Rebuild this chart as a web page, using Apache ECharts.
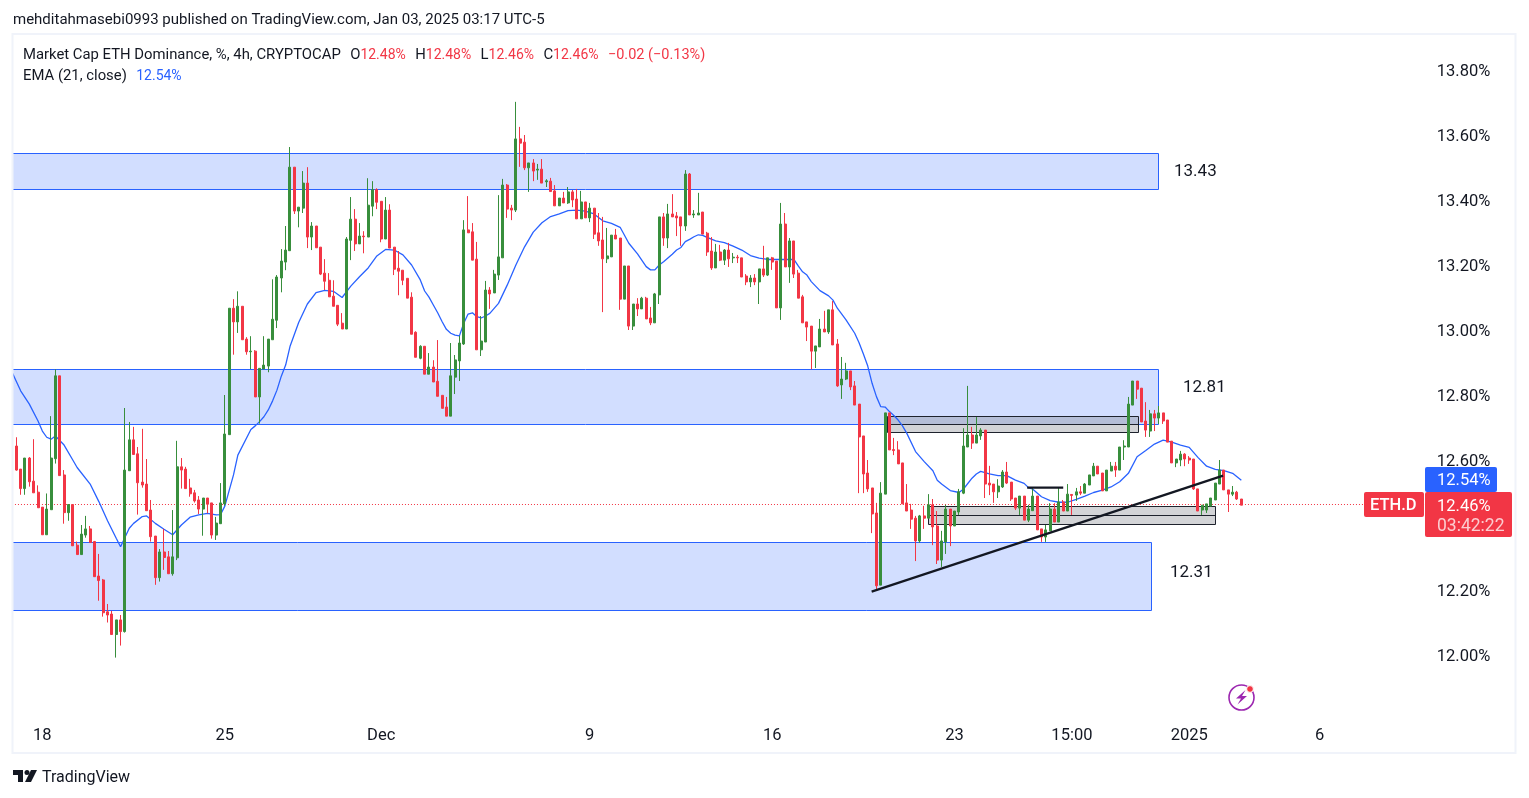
<!DOCTYPE html>
<html>
<head>
<meta charset="utf-8">
<title>ETH.D</title>
<style>
html, body { margin: 0; padding: 0; background: #fff; }
#chart { width: 1529px; height: 798px; }
</style>
<script src="https://cdn.jsdelivr.net/npm/echarts@6/dist/echarts.min.js"></script>
</head>
<body>
<div id="chart"></div>
<script>
// candles, one value per 4h bar
var openVals = [
12.551,12.643,12.572,12.512,12.606,12.535,12.501,12.455,12.370,12.447,
12.604,12.859,12.554,12.438,12.463,12.338,12.309,12.369,12.388,12.349,
12.243,12.231,12.133,12.126,12.063,12.108,12.072,12.567,12.662,12.619,
12.532,12.526,12.446,12.366,12.238,12.317,12.302,12.250,12.299,12.579,
12.572,12.514,12.499,12.477,12.449,12.483,12.468,12.369,12.404,12.465,
12.678,13.067,13.025,13.073,12.972,12.933,12.935,12.794,12.880,12.889,
12.970,13.030,13.160,13.209,13.244,13.501,13.366,13.375,13.452,13.286,
13.320,13.255,13.175,13.153,13.104,13.076,13.021,13.003,13.276,13.341,
13.265,13.289,13.286,13.381,13.432,13.396,13.280,13.369,13.255,13.190,
13.184,13.159,13.101,12.993,12.913,12.950,12.864,12.886,12.842,12.799,
12.763,12.735,12.855,12.905,12.957,13.308,13.302,13.218,12.939,12.963,
13.123,13.114,13.169,13.222,13.446,13.375,13.369,13.588,13.578,13.499,
13.514,13.492,13.495,13.456,13.458,13.428,13.382,13.406,13.391,13.425,
13.403,13.342,13.394,13.345,13.375,13.299,13.277,13.219,13.225,13.292,
13.283,13.095,13.197,13.012,13.080,13.065,13.098,13.037,13.022,13.108,
13.348,13.283,13.357,13.351,13.348,13.320,13.480,13.354,13.354,13.363,
13.298,13.243,13.191,13.240,13.215,13.246,13.222,13.224,13.222,13.166,
13.148,13.160,13.148,13.188,13.169,13.222,13.212,13.068,13.326,13.194,
13.274,13.175,13.102,13.025,13.012,12.935,12.948,13.003,12.994,13.062,
12.957,12.831,12.849,12.874,12.828,12.772,12.674,12.560,12.514,12.437,
12.215,12.495,12.745,12.632,12.631,12.591,12.468,12.446,12.421,12.351,
12.428,12.421,12.462,12.397,12.292,12.348,12.449,12.397,12.440,12.498,
12.640,12.677,12.652,12.674,12.692,12.529,12.526,12.502,12.517,12.563,
12.532,12.483,12.452,12.489,12.415,12.444,12.489,12.388,12.363,12.382,
12.449,12.409,12.471,12.443,12.494,12.492,12.502,12.498,12.523,12.551,
12.581,12.560,12.505,12.566,12.581,12.569,12.640,12.640,12.769,12.843,
12.821,12.720,12.689,12.742,12.729,12.745,12.723,12.658,12.591,12.600,
12.618,12.606,12.603,12.511,12.446,12.446,12.458,12.477,12.526,12.569,
12.508,12.495,12.501,12.480];
var closeVals = [
12.643,12.569,12.512,12.606,12.533,12.499,12.453,12.370,12.449,12.606,
12.859,12.552,12.438,12.463,12.336,12.309,12.372,12.388,12.346,12.241,
12.229,12.130,12.123,12.063,12.108,12.072,12.569,12.662,12.617,12.530,
12.523,12.444,12.364,12.238,12.317,12.300,12.250,12.302,12.579,12.569,
12.512,12.496,12.474,12.449,12.483,12.464,12.369,12.406,12.468,12.680,
13.067,13.025,13.073,12.970,12.933,12.935,12.794,12.882,12.892,12.972,
13.033,13.163,13.212,13.246,13.501,13.366,13.378,13.452,13.286,13.320,
13.253,13.172,13.150,13.102,13.073,13.018,13.003,13.280,13.341,13.265,
13.289,13.287,13.384,13.432,13.393,13.280,13.369,13.252,13.187,13.181,
13.153,13.098,12.987,12.916,12.950,12.864,12.886,12.840,12.796,12.759,
12.735,12.859,12.908,12.960,13.308,13.299,13.215,12.939,12.966,13.123,
13.111,13.172,13.225,13.446,13.372,13.369,13.588,13.575,13.499,13.514,
13.489,13.495,13.452,13.459,13.426,13.382,13.406,13.391,13.425,13.400,
13.342,13.394,13.345,13.375,13.295,13.274,13.219,13.228,13.292,13.280,
13.095,13.197,13.012,13.080,13.065,13.098,13.034,13.022,13.111,13.348,
13.283,13.357,13.348,13.345,13.320,13.480,13.354,13.357,13.360,13.295,
13.240,13.191,13.240,13.215,13.246,13.219,13.224,13.222,13.163,13.148,
13.160,13.148,13.188,13.169,13.222,13.209,13.068,13.326,13.194,13.274,
13.172,13.098,13.022,13.009,12.935,12.951,13.003,12.994,13.062,12.954,
12.828,12.849,12.874,12.825,12.769,12.671,12.557,12.511,12.434,12.213,
12.498,12.745,12.631,12.629,12.588,12.465,12.443,12.418,12.351,12.428,
12.421,12.462,12.394,12.292,12.351,12.449,12.397,12.443,12.502,12.643,
12.677,12.652,12.677,12.692,12.526,12.523,12.502,12.520,12.563,12.529,
12.480,12.452,12.489,12.415,12.449,12.489,12.385,12.363,12.385,12.449,
12.409,12.471,12.443,12.495,12.491,12.502,12.498,12.526,12.554,12.581,
12.557,12.505,12.569,12.581,12.569,12.640,12.643,12.772,12.843,12.818,
12.717,12.692,12.742,12.729,12.745,12.720,12.655,12.591,12.603,12.618,
12.603,12.600,12.511,12.443,12.461,12.465,12.483,12.529,12.569,12.508,
12.495,12.501,12.480,12.461];
var lowVals = [
12.551,12.567,12.493,12.493,12.518,12.499,12.453,12.370,12.370,12.447,
12.589,12.552,12.404,12.413,12.336,12.309,12.309,12.361,12.346,12.241,
12.167,12.118,12.100,12.063,11.992,12.029,12.069,12.567,12.617,12.432,
12.515,12.444,12.349,12.216,12.226,12.262,12.250,12.244,12.292,12.512,
12.512,12.487,12.469,12.434,12.367,12.436,12.358,12.354,12.404,12.459,
12.678,12.924,12.991,12.970,12.924,12.880,12.794,12.712,12.880,12.870,
12.970,13.006,13.116,13.184,13.244,13.357,13.316,13.360,13.252,13.246,
13.253,13.169,13.123,13.102,13.073,13.012,13.003,13.003,13.215,13.243,
13.265,13.236,13.286,13.350,13.372,13.270,13.280,13.252,13.169,13.107,
13.138,13.098,12.987,12.916,12.910,12.864,12.864,12.840,12.796,12.759,
12.735,12.735,12.803,12.843,12.954,13.299,13.215,12.939,12.920,12.963,
13.065,13.114,13.154,13.222,13.345,13.338,13.363,13.502,13.492,13.425,
13.458,13.462,13.452,13.440,13.426,13.382,13.382,13.391,13.388,13.378,
13.342,13.342,13.345,13.332,13.280,13.259,13.055,13.206,13.225,13.280,
13.062,13.095,13.000,13.000,13.043,13.065,13.034,13.015,13.022,13.080,
13.259,13.252,13.348,13.289,13.259,13.305,13.354,13.345,13.354,13.295,
13.228,13.185,13.191,13.212,13.200,13.194,13.206,13.206,13.163,13.138,
13.132,13.138,13.080,13.163,13.166,13.185,13.068,13.031,13.194,13.145,
13.160,13.098,13.022,12.966,12.879,12.883,12.948,12.994,12.988,12.954,
12.825,12.788,12.846,12.815,12.769,12.498,12.498,12.502,12.375,12.200,
12.215,12.495,12.631,12.615,12.588,12.465,12.443,12.388,12.289,12.345,
12.388,12.421,12.338,12.280,12.271,12.311,12.335,12.397,12.431,12.495,
12.640,12.634,12.652,12.662,12.483,12.492,12.468,12.483,12.514,12.526,
12.474,12.446,12.431,12.415,12.409,12.444,12.385,12.348,12.348,12.382,
12.409,12.409,12.443,12.443,12.431,12.474,12.492,12.498,12.523,12.551,
12.557,12.505,12.505,12.566,12.548,12.569,12.600,12.640,12.769,12.788,
12.717,12.671,12.671,12.689,12.711,12.711,12.655,12.591,12.578,12.581,
12.581,12.588,12.508,12.443,12.431,12.437,12.458,12.477,12.526,12.508,
12.440,12.489,12.477,12.461];
var highVals = [
12.643,12.670,12.572,12.606,12.609,12.664,12.522,12.455,12.497,12.735,
12.879,12.859,12.569,12.463,12.463,12.349,12.400,12.428,12.397,12.351,
12.311,12.234,12.157,12.136,12.108,12.123,12.760,12.717,12.702,12.640,
12.696,12.603,12.477,12.366,12.326,12.388,12.320,12.446,12.659,12.606,
12.579,12.542,12.508,12.489,12.483,12.483,12.468,12.425,12.529,12.800,
13.067,13.095,13.119,13.073,12.978,12.981,12.938,12.882,12.981,12.972,
13.156,13.169,13.249,13.320,13.563,13.501,13.378,13.489,13.501,13.332,
13.320,13.255,13.218,13.175,13.153,13.076,13.052,13.286,13.409,13.372,
13.329,13.304,13.467,13.458,13.436,13.396,13.409,13.387,13.255,13.243,
13.184,13.159,13.116,12.996,12.953,12.950,12.929,12.907,12.969,12.799,
12.794,12.960,12.923,12.982,13.338,13.412,13.329,13.271,13.043,13.151,
13.132,13.185,13.415,13.465,13.449,13.385,13.702,13.625,13.600,13.514,
13.526,13.511,13.526,13.464,13.468,13.446,13.406,13.425,13.440,13.431,
13.434,13.428,13.394,13.391,13.375,13.360,13.348,13.314,13.292,13.311,
13.283,13.197,13.197,13.080,13.098,13.102,13.102,13.071,13.114,13.348,
13.360,13.388,13.418,13.363,13.348,13.492,13.483,13.369,13.422,13.363,
13.302,13.286,13.265,13.262,13.249,13.268,13.237,13.231,13.222,13.172,
13.169,13.172,13.188,13.259,13.222,13.225,13.212,13.391,13.360,13.283,
13.274,13.185,13.108,13.025,13.012,12.951,13.034,13.059,13.062,13.089,
12.972,12.917,12.899,12.874,12.843,12.772,12.674,12.600,12.514,12.468,
12.532,12.745,12.745,12.668,12.658,12.591,12.526,12.465,12.428,12.431,
12.459,12.495,12.480,12.443,12.382,12.462,12.449,12.443,12.511,12.698,
12.828,12.702,12.732,12.698,12.692,12.582,12.526,12.541,12.569,12.594,
12.532,12.483,12.489,12.489,12.462,12.514,12.489,12.388,12.400,12.467,
12.467,12.514,12.477,12.526,12.495,12.514,12.520,12.529,12.554,12.591,
12.581,12.560,12.569,12.594,12.594,12.640,12.661,12.794,12.843,12.843,
12.821,12.778,12.754,12.754,12.766,12.745,12.723,12.658,12.603,12.628,
12.621,12.612,12.603,12.511,12.461,12.465,12.483,12.529,12.600,12.569,
12.508,12.520,12.505,12.480];

// EMA 21, read at these bars
var emaBars = [0,2,4,6,7,8,9,10,12,14,15,18,20,22,24,25,27,28,30,31,33,35,37,39,41,43,45,47,48,49,51,52,
55,56,57,58,59,60,61,62,63,64,66,68,70,72,74,76,78,80,82,84,86,88,90,92,
94,95,96,97,98,99,100,101,102,103,104,105,106,107,108,109,110,112,114,116,118,120,122,124,126,128,130,132,134,136,138,140,142,144,
146,147,148,149,150,152,153,154,155,156,157,158,159,160,162,164,166,168,170,172,174,176,178,180,181,182,183,184,186,188,189,190,192,194,
195,196,197,198,199,200,201,202,203,204,205,206,208,210,212,213,214,216,218,219,221,222,223,225,227,229,231,233,
234,235,237,239,241,243,245,247,249,251,253,255,257,259,261,263,265,267,269,271,273,275,277,279,281,283];
var emaVals = [12.871,12.813,12.772,12.720,12.689,12.670,12.664,12.674,12.646,12.600,12.577,12.526,12.472,12.413,12.359,12.333,12.390,12.405,12.426,12.428,12.405,12.387,12.370,12.400,12.424,12.431,12.436,12.431,12.432,12.458,12.554,12.615,
12.694,12.705,12.718,12.733,12.754,12.782,12.815,12.858,12.892,12.949,13.023,13.080,13.115,13.122,13.119,13.100,13.135,13.164,13.191,13.228,13.248,13.246,13.231,13.200,
13.154,13.120,13.101,13.077,13.053,13.026,13.002,12.990,12.984,12.982,13.021,13.049,13.053,13.041,13.037,13.043,13.051,13.082,13.138,13.200,13.256,13.301,13.330,13.349,13.357,13.367,13.369,13.366,13.357,13.336,13.328,13.316,13.267,13.234,
13.195,13.185,13.185,13.200,13.210,13.233,13.246,13.254,13.272,13.279,13.287,13.293,13.291,13.285,13.274,13.269,13.258,13.246,13.229,13.221,13.217,13.217,13.217,13.217,13.197,13.179,13.169,13.149,13.121,13.105,13.092,13.067,13.031,12.990,
12.961,12.926,12.889,12.836,12.795,12.764,12.763,12.749,12.737,12.723,12.705,12.682,12.626,12.595,12.567,12.538,12.526,12.506,12.500,12.510,12.544,12.557,12.565,12.557,12.552,12.552,12.538,12.528,
12.515,12.510,12.487,12.475,12.470,12.470,12.479,12.489,12.500,12.507,12.517,12.533,12.559,12.610,12.629,12.649,12.661,12.655,12.646,12.639,12.608,12.581,12.571,12.567,12.559,12.538];

// x ticks
var tickBars = [7,49,85,133,175,217,244,271,301];
var tickLabels = ['18','25','Dec','9','16','23','15:00','2025','6'];

// drawings: [bar from, bar to, price top, price bottom]
var blueZones = [[0,263.8,13.543,13.432],[0,263.8,12.878,12.709],[0,262.1,12.346,12.137]];
var grayZones = [[201.4,259.1,12.734,12.685],[210.9,277,12.458,12.402]];
// [bar from, price from, bar to, price to]
var trendLines = [[197.9,12.195,278.8,12.552],[233.7,12.515,242,12.515]];

var lastPriceLine = 12.463;
var barCount = 327;

var UP = '#388e3c', DOWN = '#f23645', BLUE = '#2962ff', INK = '#131722';
var FONT = 'Roboto, sans-serif';

var categories = [];
for (var i = 0; i < barCount; i++) categories.push(String(i));

var ema = categories.map(function () { return null; });
emaBars.forEach(function (b, i) { ema[b] = emaVals[i]; });

var candles = openVals.map(function (o, i) {
    return [o, closeVals[i], lowVals[i], highVals[i]];
});

// category axes round floats, so fractional bars go through the band width
function pt(api, bar, price) {
    var a = api.coord([0, price]);
    var b = api.coord([1, price]);
    return [a[0] + (b[0] - a[0]) * bar, a[1]];
}

function renderZone(params, api) {
    var z = blueZones[params.dataIndex];
    var p0 = pt(api, z[0], z[2]);
    var p1 = pt(api, z[1], z[3]);
    return {
        type: 'rect',
        shape: { x: Math.round(p0[0]) + 0.5, y: Math.floor(p0[1]) + 0.5, width: Math.round(p1[0] - p0[0]), height: Math.round(p1[1] - p0[1]) },
        style: { fill: 'rgba(41,98,255,0.21)', stroke: BLUE, lineWidth: 1 }
    };
}

function renderGray(params, api) {
    var z = grayZones[params.dataIndex];
    var p0 = pt(api, z[0], z[2]);
    var p1 = pt(api, z[1], z[3]);
    var x = Math.round(p0[0]) + 0.5, y = Math.floor(p0[1]) + 0.5;
    var w = Math.round(p1[0] - p0[0]), h = Math.round(p1[1] - p0[1]);
    return {
        type: 'group',
        children: [
            { type: 'rect', shape: { x: x, y: y, width: w, height: h }, style: { fill: 'rgba(120,123,134,0.33)', stroke: '#1e222d', lineWidth: 1 } },
            { type: 'line', shape: { x1: x, y1: y + Math.round(h / 2), x2: x + w, y2: y + Math.round(h / 2) }, style: { stroke: '#1e222d', lineWidth: 1 } }
        ]
    };
}

function renderTrend(params, api) {
    var t = trendLines[params.dataIndex];
    var p0 = pt(api, t[0], t[1]);
    var p1 = pt(api, t[2], t[3]);
    return {
        type: 'line',
        shape: { x1: p0[0], y1: p0[1], x2: p1[0], y2: p1[1] },
        style: { stroke: INK, lineWidth: 2.2 }
    };
}

// last price, dotted across the pane
function renderPriceLine(params, api) {
    var p0 = pt(api, 0, lastPriceLine);
    var p1 = pt(api, barCount - 1, lastPriceLine);
    var y = Math.floor(p0[1]) + 0.5;
    return {
        type: 'line',
        shape: { x1: p0[0], y1: y, x2: p1[0], y2: y },
        style: { stroke: DOWN, lineWidth: 1, lineDash: [1, 2] }
    };
}

function indexRows(list) {
    return list.map(function (_, i) { return [i]; });
}

function txt(x, y, text, size, color, extra) {
    return {
        type: 'text', z: 120, x: x, y: y,
        style: Object.assign({ text: text, fontSize: size, fontFamily: FONT, fill: color, verticalAlign: 'middle' }, extra || {})
    };
}

function box(x, y, w, h, fill) {
    return { type: 'rect', z: 110, shape: { x: x, y: y, width: w, height: h, r: 2 }, style: { fill: fill } };
}

var legendRich = {
    k: { fontFamily: FONT, fontSize: 14.85, fontWeight: 'normal', color: INK },
    r: { fontFamily: FONT, fontSize: 14, fontWeight: 'normal', color: DOWN },
    d: { fontFamily: FONT, fontSize: 14.5, fontWeight: 'normal', color: DOWN },
    b: { fontFamily: FONT, fontSize: 14, fontWeight: 'normal', color: BLUE },
    s: { width: 9.4 }
};

var chart = echarts.init(document.getElementById('chart'));
chart.setOption({
    animation: false,
    backgroundColor: '#fff',
    grid: { left: 9.79, top: 5, width: 1420.51, height: 715 },
    xAxis: {
        type: 'category',
        data: categories,
        axisLine: { show: false },
        axisTick: { show: false },
        splitLine: { show: false },
        axisLabel: {
            margin: 7,
            color: INK,
            fontFamily: FONT,
            fontSize: 16.5,
            interval: function (i) { return tickBars.indexOf(i) >= 0; },
            formatter: function (v, i) {
                var k = tickBars.indexOf(i);
                return k >= 0 ? tickLabels[k] : '';
            }
        }
    },
    yAxis: {
        type: 'value',
        position: 'right',
        min: 11.8,
        max: 14,
        interval: 0.2,
        axisLine: { show: false },
        axisTick: { show: false },
        splitLine: { show: false },
        axisLabel: {
            margin: 6.5,
            color: INK,
            fontFamily: FONT,
            fontSize: 16.5,
            rich: {
                p: { fontFamily: FONT, fontSize: 16.5, color: INK, padding: [4, 0, 0, 0] }
            },
            formatter: function (v) {
                if (v < 11.9 || v > 13.9) return '';
                return '{p|' + v.toFixed(2) + '%}';
            }
        }
    },
    title: [{
        left: 8, top: 8,
        text: 'mehditahmasebi0993 published on TradingView.com, Jan 03, 2025 03:17 UTC-5',
        textStyle: { fontFamily: FONT, fontSize: 15, fontWeight: 'normal', color: INK }
    }, {
        left: 18, top: 41,
        text: '{k|Market Cap ETH Dominance, %, 4h, CRYPTOCAP}{s| }{k|O}{r|12.48%}{s| }{k|H}{r|12.48%}{s| }{k|L}{r|12.46%}{s| }{k|C}{r|12.46%}{s| }{d|−0.02 (−0.13%)}',
        textStyle: { fontWeight: 'normal', rich: legendRich }
    }, {
        left: 18, top: 62,
        text: '{k|EMA (21, close)}{s| }{b|12.54%}',
        textStyle: { fontWeight: 'normal', rich: legendRich }
    }],
    series: [{
        type: 'custom', name: 'zones', z: 1, silent: true,
        renderItem: renderZone, data: indexRows(blueZones)
    }, {
        type: 'custom', name: 'gray zones', z: 1, silent: true,
        renderItem: renderGray, data: indexRows(grayZones)
    }, {
        type: 'custom', name: 'price line', z: 2, silent: true,
        renderItem: renderPriceLine, data: [[0]]
    }, {
        type: 'line', name: 'EMA', z: 2, silent: true,
        data: ema, connectNulls: true, showSymbol: false,
        lineStyle: { color: BLUE, width: 1.3 }
    }, {
        type: 'candlestick', name: 'ETH.D', z: 3, silent: true,
        data: candles,
        barWidth: 2.5,
        itemStyle: { color: UP, color0: DOWN, borderColor: UP, borderColor0: DOWN, borderWidth: 1 }
    }, {
        type: 'custom', name: 'trend', z: 4, silent: true,
        renderItem: renderTrend, data: indexRows(trendLines)
    }],
    graphic: [
        // pane frame
        { type: 'rect', z: 100, shape: { x: 0, y: 0, width: 12, height: 798 }, style: { fill: '#fff' } },
        { type: 'rect', z: 101, shape: { x: 12.5, y: 34, width: 1503, height: 719 }, style: { fill: 'none', stroke: '#f0f3fa', lineWidth: 2 } },
        // zone captions
        txt(1174, 171.5, '13.43', 17, INK),
        txt(1183, 387.5, '12.81', 17, INK),
        txt(1170, 572.5, '12.31', 17, INK),
        // price tags
        box(1364, 492, 60, 25, DOWN),
        box(1425, 467, 72, 25, BLUE),
        box(1425, 492, 87, 45, DOWN),
        txt(1370, 506, 'ETH.D', 16.5, '#fff', { fontWeight: 500 }),
        txt(1437, 481, '12.54%', 16.5, '#fff'),
        txt(1437, 506.5, '12.46%', 16.5, '#fff'),
        txt(1437, 526.5, '03:42:22', 17.5, 'rgba(255,255,255,0.75)'),
        // bolt badge
        { type: 'circle', z: 110, shape: { cx: 1241.5, cy: 697.5, r: 12.5 }, style: { fill: 'none', stroke: '#9c27b0', lineWidth: 1.6 } },
        { type: 'polygon', z: 111, shape: { points: [[1245.5, 690], [1236, 698.5], [1241, 698.5], [1237.5, 704.5], [1247, 696], [1242, 696]] }, style: { fill: '#9c27b0' } },
        { type: 'circle', z: 112, shape: { cx: 1250, cy: 689, r: 3.4 }, style: { fill: DOWN, stroke: '#fff', lineWidth: 1 } },
        // TradingView mark
        { type: 'polygon', z: 110, shape: { points: [[13, 770], [23, 770], [23, 782], [18, 782], [18, 775], [13, 775]] }, style: { fill: INK } },
        { type: 'polygon', z: 110, shape: { points: [[31, 770], [37, 770], [31, 782], [25, 782]] }, style: { fill: INK } },
        { type: 'circle', z: 110, shape: { cx: 27, cy: 772.5, r: 2.5 }, style: { fill: INK } },
        txt(42, 777.5, 'TradingView', 16, INK)
    ]
});
</script>
</body>
</html>
